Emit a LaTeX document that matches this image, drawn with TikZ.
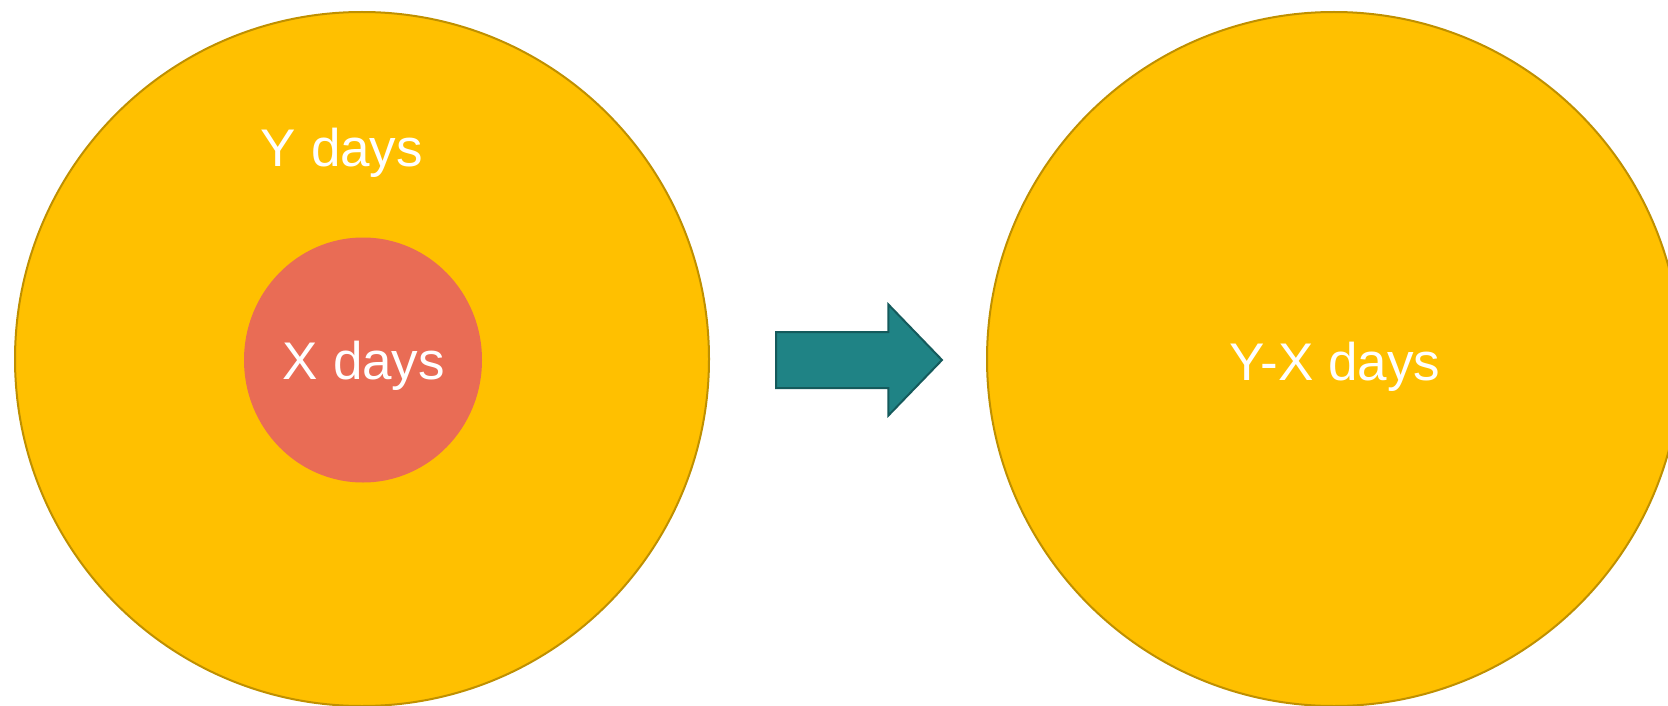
\documentclass[tikz,border=0pt]{standalone}
\usepackage{fontspec}
\setmainfont{Liberation Sans}
\usetikzlibrary{shapes.geometric, shapes.arrows}

\definecolor{poolyellow}{HTML}{FFC000}
\definecolor{pooledge}{HTML}{BF9000}
\definecolor{takenred}{HTML}{E96C55}
\definecolor{shiftteal}{HTML}{1F8385}
\definecolor{shiftedge}{HTML}{145A5C}

\begin{document}
\begin{tikzpicture}[x=1pt, y=-1pt,
    pool/.style={circle, draw=pooledge, fill=poolyellow, line width=2pt, inner sep=0pt, minimum size=694pt},
    taken/.style={ellipse, fill=takenred, inner sep=0pt, minimum width=238pt, minimum height=245pt},
    shiftarrow/.style={single arrow, draw=shiftedge, fill=shiftteal, line width=2pt, inner xsep=0pt, inner ysep=27pt, single arrow tip angle=92, single arrow head extend=27.5pt, minimum height=166pt},
    daystext/.style={text=white, anchor=base, inner sep=0pt, font=\fontsize{53}{62}\selectfont}
  ]
    \useasboundingbox (0,0) rectangle (1668,706);
    \node[pool] (total) at (362, 359) {};
    \node[pool] (left) at (1334, 359) {};
    \node[taken] (used) at (363, 360) {};
    \node[shiftarrow, anchor=tail] (result) at (775, 360) {};
    \node[daystext] (totallabel) at (342, 166) {Y days};
    \node[daystext] (usedlabel) at (364, 379) {X days};
    \node[daystext] (leftlabel) at (1335, 380) {Y-X days};
  \end{tikzpicture}
\end{document}
